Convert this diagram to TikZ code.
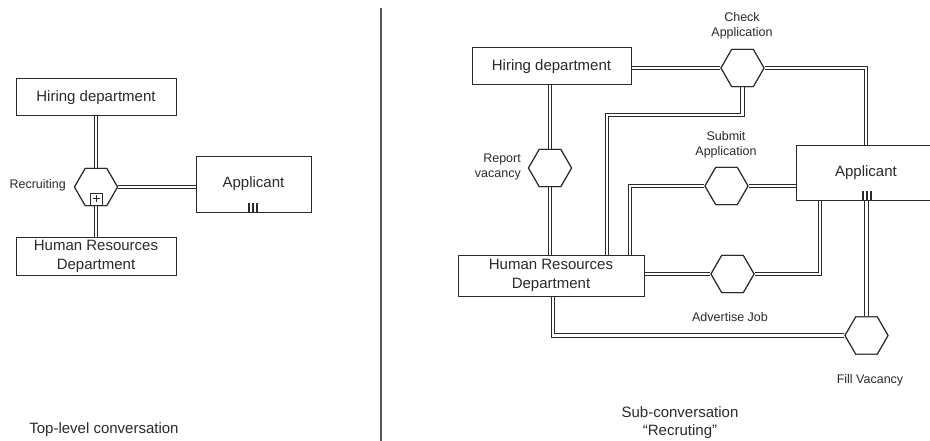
\documentclass[tikz,border=0pt]{standalone}
\usepackage{fontspec}
\setmainfont{Liberation Sans}
\usetikzlibrary{shapes.geometric,calc}
\definecolor{ink}{HTML}{2A2A2A}
\tikzset{
  party/.style={draw=ink, line width=1pt, fill=white, inner sep=0pt,
    font=\fontsize{15}{18.5}\selectfont, text=ink, align=center},
  conv/.style={draw=ink, line width=1.1pt, fill=white, regular polygon,
    regular polygon sides=6, minimum size=43pt, inner sep=0pt},
  lbl/.style={font=\fontsize{12.5}{15.5}\selectfont, text=ink, inner sep=0pt},
  caption/.style={font=\fontsize{15}{18.5}\selectfont, text=ink, inner sep=0pt, align=center},
  link/.style={draw=ink, line width=0.9pt, double=white, double distance=2.4pt},
  bar/.style={draw=ink, line width=2pt}
}
\begin{document}
\begin{tikzpicture}[x=1pt, y=-1pt]
\useasboundingbox (0,0) rectangle (930,441);

% separator between the two views
\draw[line width=1.2pt, color=black!65] (381,8) -- (381,441);

% ---------------- top-level conversation ----------------
\node[party, minimum width=160pt, minimum height=37pt] (hireL) at (96,97.5) {Hiring department};
\node[party, minimum width=160pt, minimum height=37pt] (hrL) at (96,256.5) {Human Resources\\Department};
\node[party, minimum width=115pt, minimum height=56pt] (appL) at (253.5,185) {};
\node[party, draw=none, fill=none] (appLtxt) at (253.5,184) {Applicant};
\node[conv] (recr) at (96,187) {};

\draw[link] (hireL.south) -- (recr.north);
\draw[link] (recr.south) -- (hrL.north);
\draw[link] (recr.east) -- (recr.east -| appL.west);
\node[conv] at (recr) {};
\node[lbl, anchor=east] (recrlbl) at (66,185) {Recruiting};

% sub-conversation marker
\node[draw=ink, line width=0.8pt, fill=white, minimum size=12pt, inner sep=0pt] (plus) at (96,199) {};
\draw[ink, line width=1pt] ($(plus.center)+(-3.5,0)$) -- ($(plus.center)+(3.5,0)$);
\draw[ink, line width=1pt] ($(plus.center)+(0,-3.5)$) -- ($(plus.center)+(0,3.5)$);

% multi-instance marker
\coordinate (mL) at (252.5,213);
\foreach \dx in {-4,0,4} \draw[bar] ($(mL)+(\dx,0)$) -- ($(mL)+(\dx,-10)$);

\node[caption] (capL) at (104,430) {Top-level conversation};

% ---------------- sub-conversation ----------------
\node[party, minimum width=159pt, minimum height=37pt] (hireR) at (551.5,66.5) {Hiring department};
\node[party, minimum width=186pt, minimum height=41pt] (hrR) at (551,275.5) {Human Resources\\Department};
\node[party, minimum width=140pt, minimum height=55pt] (appR) at (866,173.5) {};
\node[party, draw=none, fill=none] (appRtxt) at (866,173) {Applicant};

\node[conv] (check) at (742.5,68) {};
\node[conv] (report) at (550,168) {};
\node[conv] (submit) at (726.5,186) {};
\node[conv] (advert) at (732.5,274) {};
\node[conv] (fill) at (866.5,335.5) {};

\coordinate (jCheck) at (607,115);
\coordinate (jSubmit) at (630,185);
\coordinate (jAdvert) at (820,274);
\coordinate (jFill) at (553,333);

\draw[link] (hireR.east |- check.west) -- (check.west);
\draw[link] (check.east) -| (appR.north);
\draw[link] (check.south) |- (jCheck) -- (jCheck |- hrR.north);
\draw[link] (report.north |- hireR.south) -- (report.north);
\draw[link] (report.south) -- (report.south |- hrR.north);
\draw[link] (submit.west) -| (jSubmit |- hrR.north);
\draw[link] (submit.east) -- (submit.east -| appR.west);
\draw[link] (advert.west) -- (advert.west -| hrR.east);
\draw[link] (advert.east) -| (jAdvert |- appR.south);
\draw[link] (jFill |- hrR.south) |- (fill.west);
\draw[link] (fill.north) -- (fill.north |- appR.south);

% redraw shapes over the connector ends
\foreach \n in {check,report,submit,advert,fill} \node[conv] at (\n) {};

% multi-instance marker
\coordinate (mR) at (866.5,201);
\foreach \dx in {-4,0,4} \draw[bar] ($(mR)+(\dx,0)$) -- ($(mR)+(\dx,-10)$);

\node[lbl, align=center] (checklbl) at (742,26) {Check\\Application};
\node[lbl, align=right, anchor=east] (reportlbl) at (521,167) {Report\\vacancy};
\node[lbl, align=center] (submitlbl) at (726,145) {Submit\\Application};
\node[lbl] (advertlbl) at (730,317) {Advertise Job};
\node[lbl] (filllbl) at (870,380) {Fill Vacancy};

\node[caption] (capR) at (680,422.5) {Sub-conversation\\“Recruting”};
\end{tikzpicture}
\end{document}
